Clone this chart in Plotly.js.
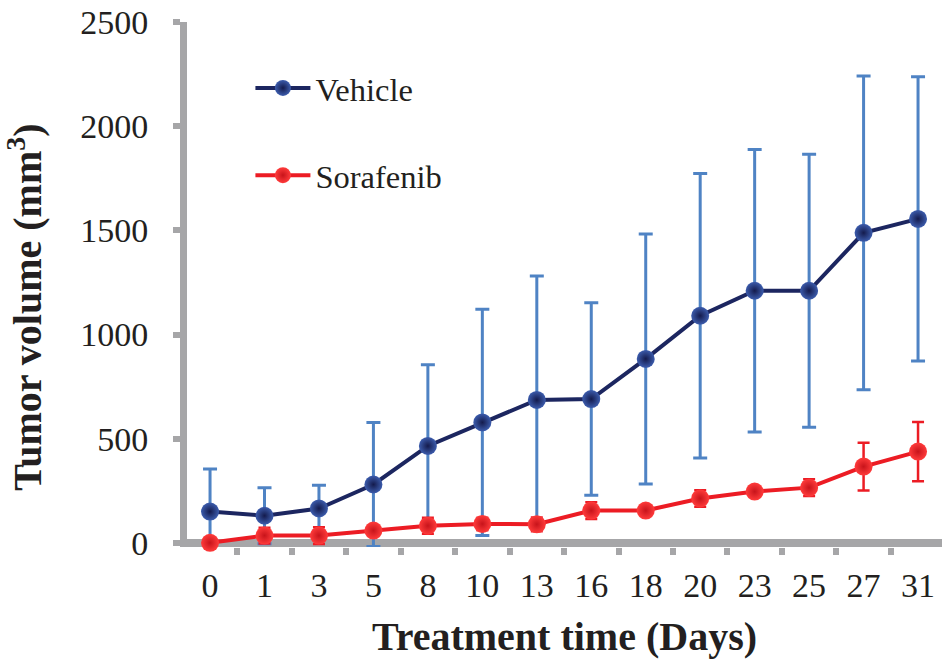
<!DOCTYPE html>
<html>
<head>
<meta charset="utf-8">
<script src="https://cdn.plot.ly/plotly-3.0.1.min.js"></script>
<style>html,body{margin:0;padding:0;background:#fff;}#chart{width:942px;height:665px;}
.legendtext{font-family:'Liberation Serif', serif !important;}</style>
</head>
<body>
<div id="chart"></div>
<script>
const days = ['0','1','3','5','8','10','13','16','18','20','23','25','27','31'];
const vehicleMean = [150,130,165,280,465,578,686,690,883,1090,1210,1210,1488,1555];
const vehicleErr = [205,134,112,298,390,543,595,462,600,683,678,655,753,682];
const sorafenibMean = [0,35,35,59,82,91,89,155,155,213,246,265,366,438];
const sorafenibErr = [0,38,40,20,38,30,33,40,20,40,20,40,115,142];
const yTicks = [0,500,1000,1500,2000,2500];
const seriesNames = ['Vehicle', 'Sorafenib'];

const serif = 'Liberation Serif';
const axisGray = '#a6a6a8';
const textColor = '#231f20';

const traces = [
  {
    type: 'scatter', mode: 'lines+markers', name: seriesNames[0],
    x: days, y: vehicleMean, legendgroup: 'a', cliponaxis: true,
    line: {color: '#1c2660', width: 4},
    marker: {size: 18, color: '#3c5cad', gradient: {type: 'radial', color: '#141b4d'}},
    error_y: {type: 'data', array: vehicleErr, visible: true, color: '#4f83c4', thickness: 3, width: 7}
  },
  {
    type: 'scatter', mode: 'lines+markers', name: seriesNames[1],
    x: days, y: sorafenibMean, legendgroup: 'b', cliponaxis: false,
    line: {color: '#ec1c24', width: 4},
    marker: {size: 18, color: '#ff3b3b', gradient: {type: 'radial', color: '#c8141b'}},
    error_y: {type: 'data', array: sorafenibErr, visible: true, color: '#ec1c24', thickness: 2.5, width: 6}
  }
];

const layout = {
  width: 942, height: 665,
  margin: {l: 187, r: 0, t: 22, b: 117.8, pad: 0},
  paper_bgcolor: '#ffffff', plot_bgcolor: '#ffffff',
  font: {family: serif, color: textColor, size: 34},
  showlegend: true,
  legend: {
    x: 0.084, y: 0.927, xanchor: 'left', yanchor: 'top',
    font: {family: serif, size: 32.5, color: textColor},
    tracegroupgap: 42, itemwidth: 55, bgcolor: 'rgba(0,0,0,0)', traceorder: 'grouped'
  },
  xaxis: {
    type: 'category', range: [-0.423, 13.44],
    tickson: 'boundaries', ticks: 'outside', ticklen: 7, tickwidth: 6, tickcolor: axisGray,
    showline: false, showgrid: false, zeroline: false,
    tickfont: {family: serif, size: 34, color: textColor},
    ticklabelstandoff: 15,
    title: {text: '<b>Treatment time (Days)</b>', font: {family: serif, size: 40, color: textColor}, standoff: 18}
  },
  yaxis: {
    range: [-20, 2500], tickvals: yTicks, ticktext: yTicks.map(String),
    ticks: 'outside', ticklen: 7, tickwidth: 6, tickcolor: axisGray,
    showline: true, linecolor: axisGray, linewidth: 7,
    showgrid: false, zeroline: true, zerolinecolor: axisGray, zerolinewidth: 8,
    tickfont: {family: serif, size: 34, color: textColor},
    ticklabelstandoff: 18
  },
  annotations: [{
    text: '<b>Tumor volume (mm<sup>3</sup>)</b>', textangle: -90,
    xref: 'paper', yref: 'paper', x: -0.215, y: 0.457, xanchor: 'center', yanchor: 'middle',
    showarrow: false, font: {family: serif, size: 40, color: textColor}
  }]
};

Plotly.newPlot('chart', traces, layout, {displayModeBar: false, staticPlot: true});
</script>
</body>
</html>
